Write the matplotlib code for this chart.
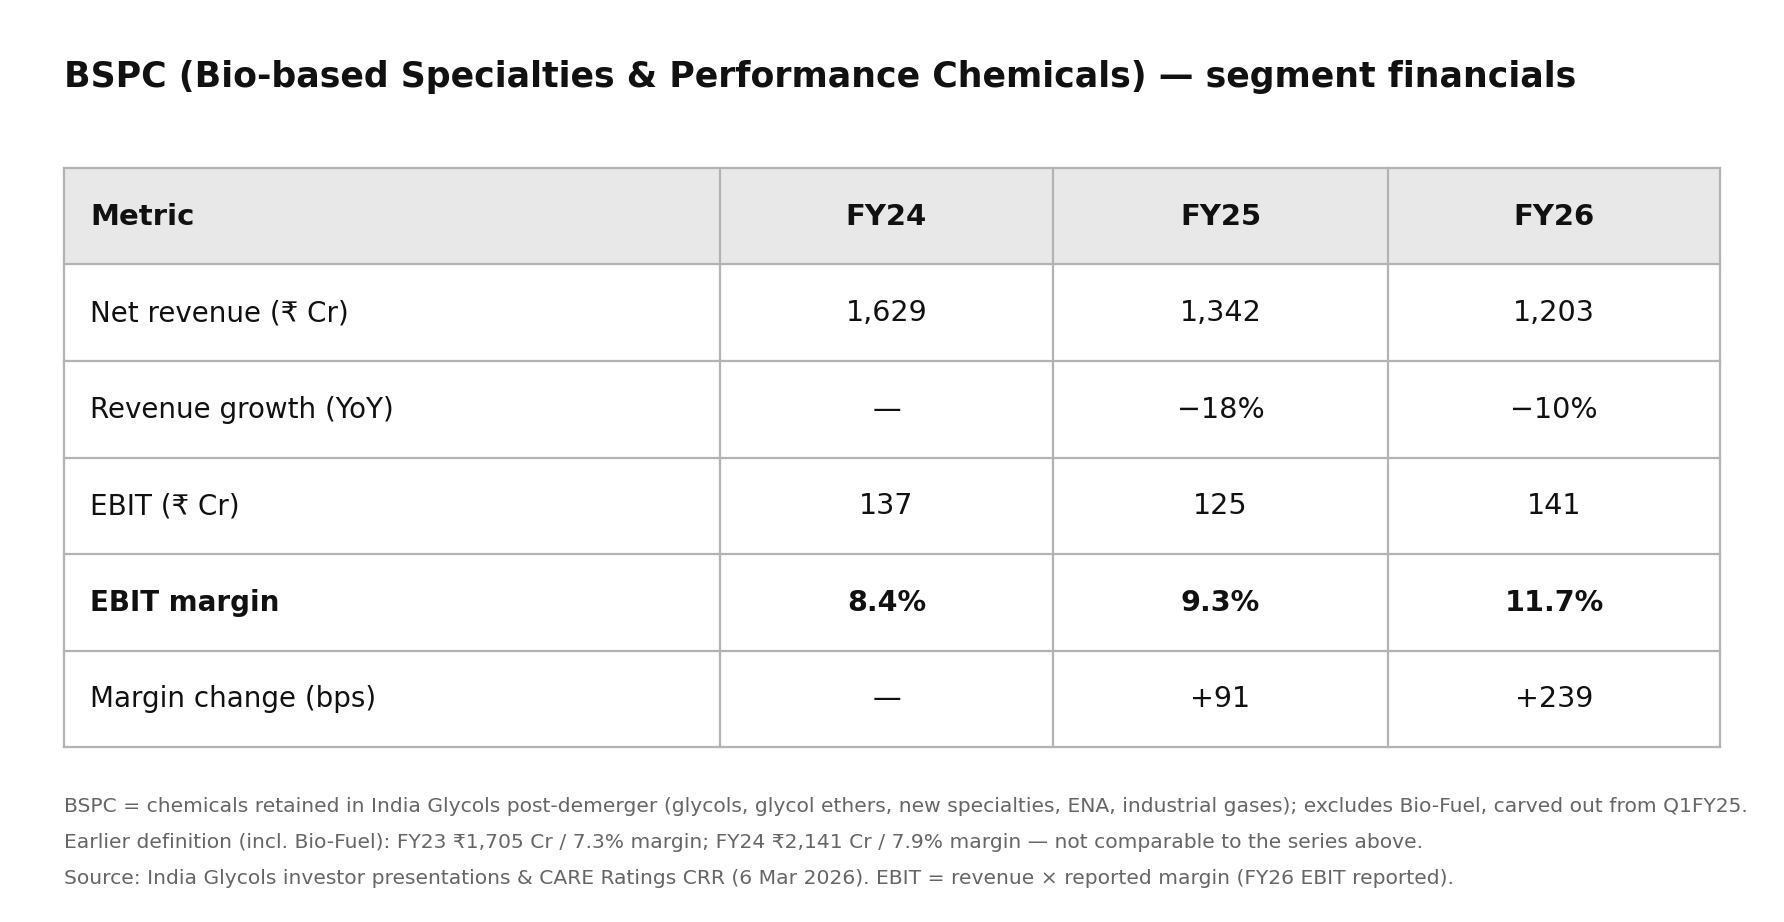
import matplotlib
matplotlib.use("Agg")
import matplotlib.pyplot as plt
from matplotlib.patches import Rectangle

# ── data ──────────────────────────
columns = ["Metric", "FY24", "FY25", "FY26"]
metrics = ["Net revenue (₹ Cr)", "Revenue growth (YoY)", "EBIT (₹ Cr)",
           "EBIT margin", "Margin change (bps)"]
fy24 = ["1,629", "—", "137", "8.4%", "—"]
fy25 = ["1,342", "−18%", "125", "9.3%", "+91"]
fy26 = ["1,203", "−10%", "141", "11.7%", "+239"]
bold_rows = ["EBIT margin"]

title = "BSPC (Bio-based Specialties & Performance Chemicals) — segment financials"
notes = [
    "BSPC = chemicals retained in India Glycols post-demerger (glycols, glycol ethers, new specialties, ENA, industrial gases); excludes Bio-Fuel, carved out from Q1FY25.",
    "Earlier definition (incl. Bio-Fuel): FY23 ₹1,705 Cr / 7.3% margin; FY24 ₹2,141 Cr / 7.9% margin — not comparable to the series above.",
    "Source: India Glycols investor presentations & CARE Ratings CRR (6 Mar 2026). EBIT = revenue × reported margin (FY26 EBIT reported).",
]

# ── layout (pixels) ───────────────
W, H = 1784, 922
col_edges = [64, 720, 1053, 1388, 1720]
top, row_h = 168, 96.5
line_col = "#b3b3b3"
txt_col = "#111111"

fig = plt.figure(figsize=(W / 100, H / 100), dpi=100)
ax = fig.add_axes([0, 0, 1, 1])
ax.set_xlim(0, W)
ax.set_ylim(H, 0)
ax.axis("off")

ax.text(64, 87, title, fontsize=25, fontweight="bold", color=txt_col, va="baseline")

rows = [columns] + [list(r) for r in zip(metrics, fy24, fy25, fy26)]
n_rows = len(rows)

# header background
ax.add_patch(Rectangle((col_edges[0], top), col_edges[-1] - col_edges[0], row_h,
                       facecolor="#e8e8e8", edgecolor="none", zorder=1))

for i, row in enumerate(rows):
    y_mid = top + (i + 0.5) * row_h
    bold = i == 0 or row[0] in bold_rows
    for j, val in enumerate(row):
        if j == 0:
            x, ha = col_edges[0] + 26, "left"
            fs = 20
        else:
            x, ha = (col_edges[j] + col_edges[j + 1]) / 2, "center"
            fs = 20.6
        if i == 0:
            fs = 21
        ax.text(x, y_mid + 8.5, val, fontsize=fs, ha=ha, va="baseline",
                fontweight="bold" if bold else "normal", color=txt_col, zorder=3)

# grid lines
bottom = top + n_rows * row_h
for i in range(n_rows + 1):
    y = top + i * row_h
    ax.plot([col_edges[0], col_edges[-1]], [y, y], color=line_col, lw=1.6,
            solid_capstyle="projecting", zorder=2)
for x in col_edges:
    ax.plot([x, x], [top, bottom], color=line_col, lw=1.6,
            solid_capstyle="projecting", zorder=2)

for k, note in enumerate(notes):
    ax.text(64, 812 + k * 36, note, fontsize=14.6, color="#666666", va="baseline")

fig.savefig("out.png", dpi=100, facecolor="white")
